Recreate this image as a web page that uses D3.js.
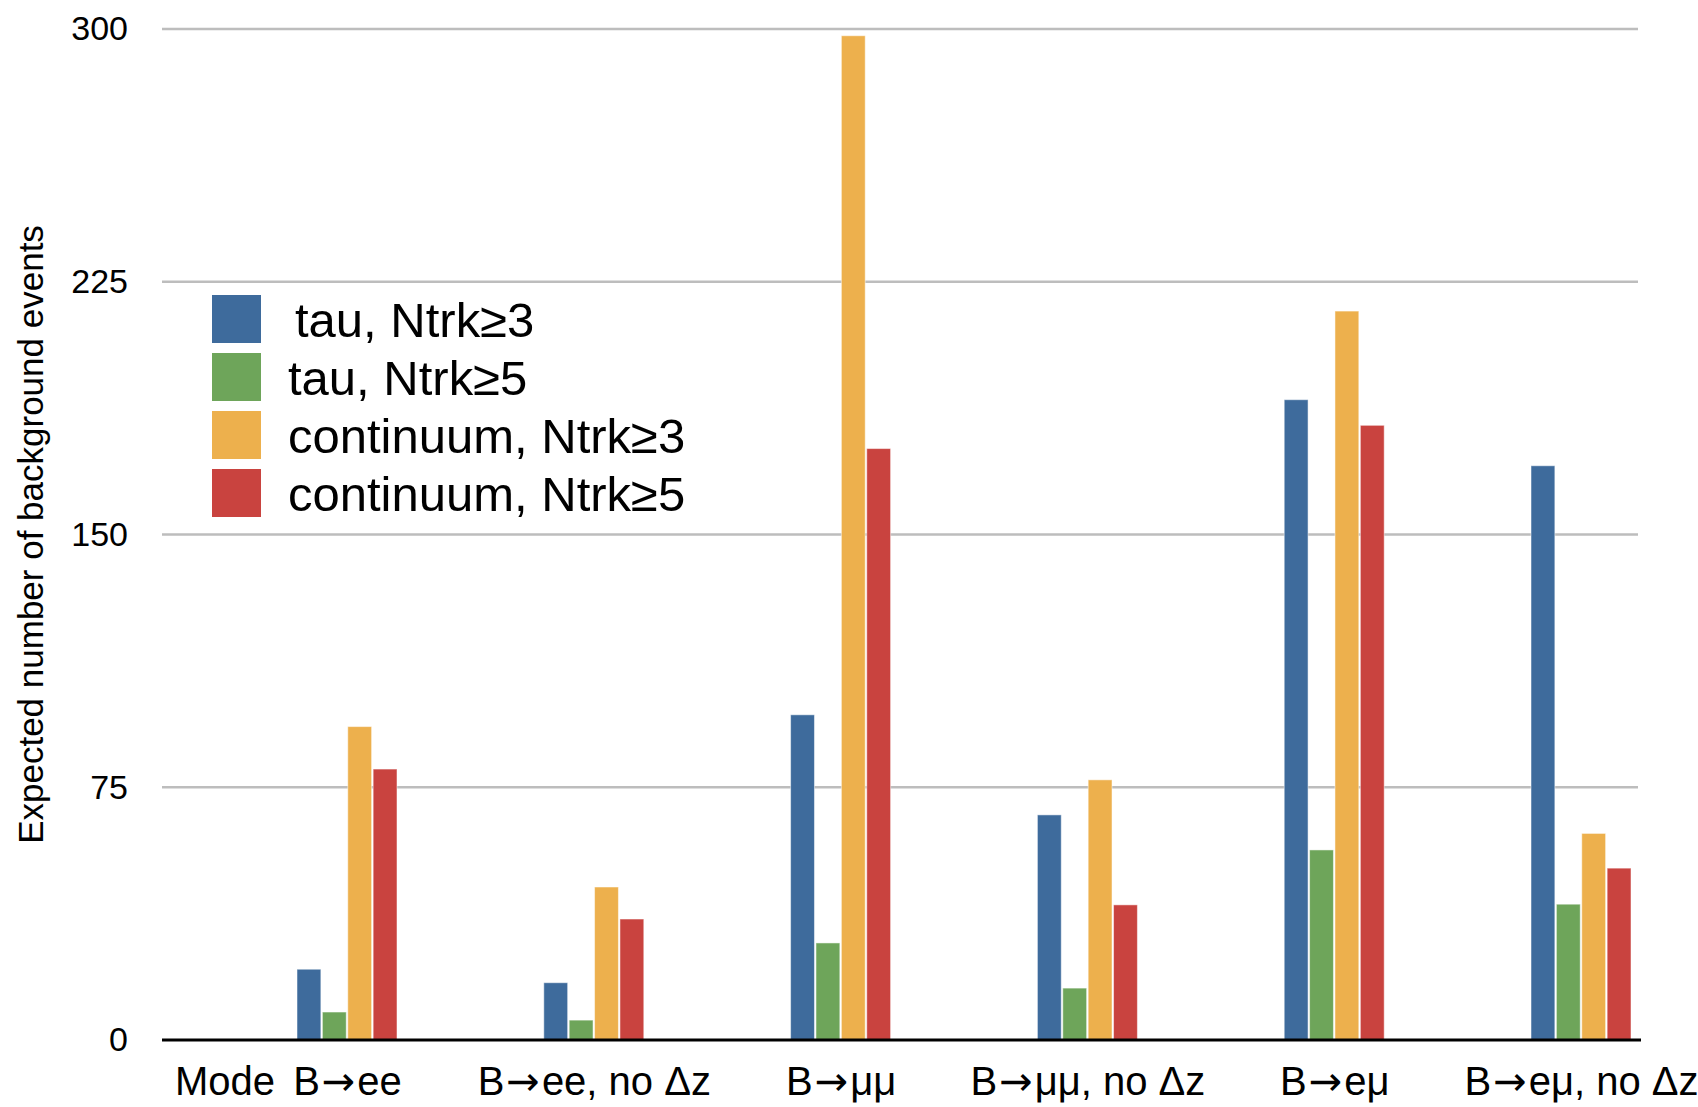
<!DOCTYPE html>
<html>
<head>
<meta charset="utf-8">
<script src="https://cdn.jsdelivr.net/npm/d3@7"></script>
<style>
  html, body { margin: 0; padding: 0; background: #fff; }
  svg { display: block; font-family: "Liberation Sans", Arial, Helvetica, sans-serif; }
</style>
</head>
<body>
<svg id="chart" width="1698" height="1107"></svg>
<script>
// ---- data ----
const categories = ["B→ee", "B→ee, no Δz", "B→μμ", "B→μμ, no Δz", "B→eμ", "B→eμ, no Δz"];
const seriesNames = ["tau, Ntrk≥3", "tau, Ntrk≥5", "continuum, Ntrk≥3", "continuum, Ntrk≥5"];
const tauN3 = [21, 17, 96.5, 66.8, 190, 170.4];
const tauN5 = [8.3, 5.9, 28.8, 15.4, 56.4, 40.3];
const contN3 = [93, 45.4, 298, 77.2, 216.3, 61.3];
const contN5 = [80.4, 35.9, 175.5, 40.1, 182.4, 51];
const yTicks = [0, 75, 150, 225, 300];
const colors = ["#3e6b9c", "#6ea55a", "#edb04d", "#c9433f"];

const seriesValues = [tauN3, tauN5, contN3, contN5];
const table = categories.map((c, i) => ({
  cat: c,
  vals: seriesNames.map((s, k) => ({ series: s, k, value: seriesValues[k][i] }))
}));

// ---- layout ----
const svg = d3.select("#chart");
const plotLeft = 162, plotRight = 1638, plotTop = 29, plotBottom = 1040;

const y = d3.scaleLinear().domain([0, 300]).range([plotBottom, plotTop]);
const x = d3.scalePoint().domain(categories).range([347, 1581]);
const xs = d3.scaleBand().domain(seriesNames).range([-50, 50]).paddingInner(0.06);

// gridlines
svg.append("g")
  .selectAll("line")
  .data(yTicks.filter(t => t > 0))
  .join("line")
  .attr("x1", plotLeft).attr("x2", plotRight)
  .attr("y1", d => y(d)).attr("y2", d => y(d))
  .attr("stroke", "#bdbdbd").attr("stroke-width", 2.5);

// y axis labels
const yAxis = d3.axisLeft(y).tickValues(yTicks).tickSize(0).tickPadding(0).tickFormat(d3.format("d"));
const gy = svg.append("g").attr("transform", `translate(128,0)`).call(yAxis);
gy.select(".domain").remove();
gy.selectAll("text").attr("font-size", 34).attr("fill", "#000").attr("font-family", "Liberation Sans, Arial, sans-serif");

// bars
const groups = svg.append("g").selectAll("g")
  .data(table).join("g")
  .attr("transform", d => `translate(${x(d.cat)},0)`);
groups.selectAll("rect")
  .data(d => d.vals).join("rect")
  .attr("x", d => xs(d.series))
  .attr("width", xs.bandwidth())
  .attr("y", d => y(d.value))
  .attr("height", d => y(0) - y(d.value))
  .attr("fill", d => colors[d.k])
  .attr("stroke", "rgba(255,255,255,0.5)")
  .attr("stroke-width", 1);

// zero line
svg.append("line")
  .attr("x1", plotLeft).attr("x2", 1641)
  .attr("y1", y(0)).attr("y2", y(0))
  .attr("stroke", "#000").attr("stroke-width", 3);

// x axis labels
const xAxis = d3.axisBottom(x).tickSize(0).tickPadding(0);
const gx = svg.append("g").attr("transform", `translate(0,${y(0)})`).call(xAxis);
gx.select(".domain").remove();
gx.selectAll("text")
  .attr("font-size", 40).attr("fill", "#000")
  .attr("font-family", "Liberation Sans, Arial, sans-serif")
  .attr("dy", null).attr("y", 55)
  .each(function(d) {
    const t = d3.select(this);
    t.text(null);
    const parts = d.split("→");
    parts.forEach((p, i) => {
      if (i > 0) t.append("tspan").attr("font-family", "DejaVu Sans").attr("dx", 2).text("→");
      t.append("tspan").attr("dx", i > 0 ? 2 : 0).text(p);
    });
  });

svg.append("text")
  .attr("x", 175).attr("y", 1095)
  .attr("font-size", 40)
  .text("Mode");

// y axis title
svg.append("text")
  .attr("transform", `translate(43,${(plotTop + plotBottom) / 2}) rotate(-90)`)
  .attr("text-anchor", "middle")
  .attr("font-size", 35)
  .text("Expected number of background events");

// legend
const legend = svg.append("g").attr("transform", "translate(212,295)");
const items = legend.selectAll("g").data(seriesNames).join("g")
  .attr("transform", (d, i) => `translate(0,${i * 58})`);
items.append("rect").attr("width", 49).attr("height", 48).attr("fill", (d, i) => colors[i]);
items.append("text")
  .attr("x", (d, i) => i === 0 ? 83 : 76)
  .attr("y", 24).attr("dy", "0.36em")
  .attr("font-size", 49)
  .text(d => d);
</script>
</body>
</html>
